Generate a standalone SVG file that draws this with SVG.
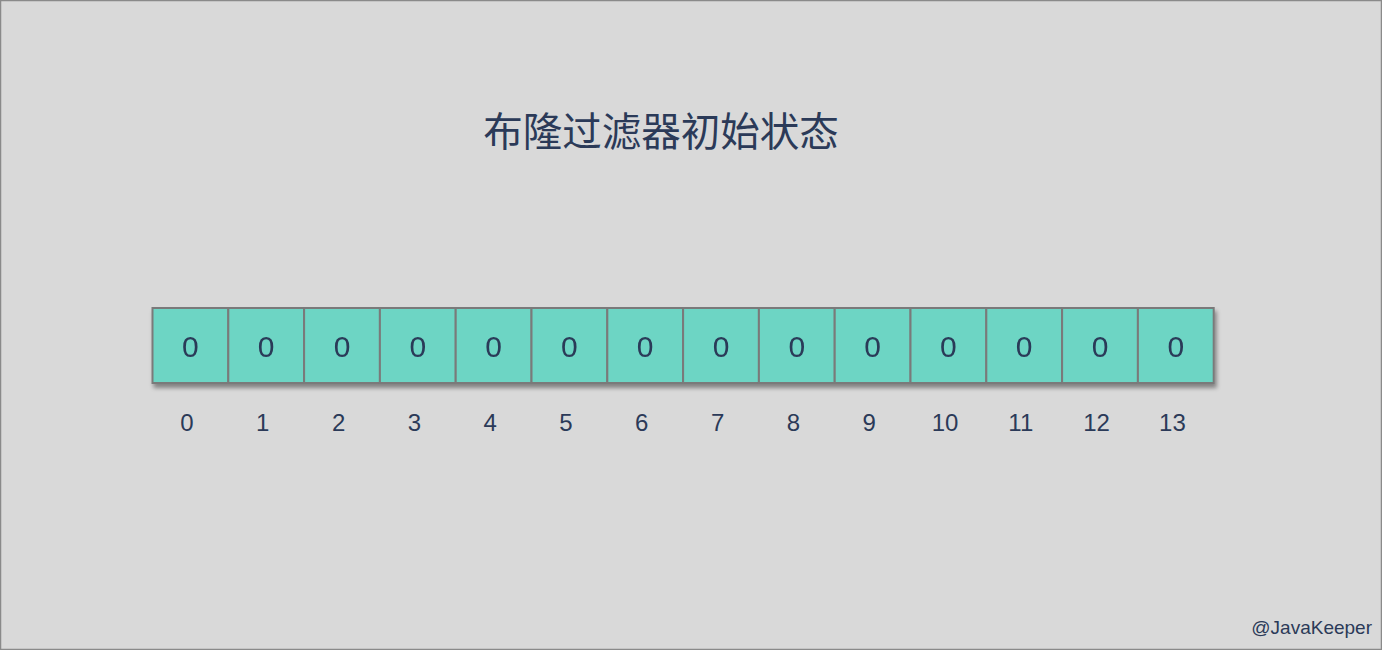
<svg xmlns="http://www.w3.org/2000/svg" width="1382" height="650" viewBox="0 0 1382 650">
<defs>
<style>
.cell{fill:#6dd5c4;stroke:#7a7a7a;stroke-width:2}
.val{font-family:"Liberation Sans",Arial,sans-serif;font-size:30px;fill:#2b3a58;text-anchor:middle}
.idx{font-family:"Liberation Sans",Arial,sans-serif;font-size:24px;fill:#2b3a58;text-anchor:middle}
</style>
<filter id="sh" x="-10%" y="-10%" width="130%" height="130%">
<feDropShadow dx="2" dy="4" stdDeviation="2" flood-color="#000" flood-opacity="0.4"/>
</filter>
</defs>
<rect x="0.5" y="0.5" width="1381" height="649" fill="#d9d9d9" stroke="#8a8a8a" stroke-width="1.5"/>
<text x="661" y="146" font-family="'Noto Sans CJK SC','Noto Sans',sans-serif" font-size="39.5" fill="#2b3a58" text-anchor="middle">布隆过滤器初始状态</text>
<g id="array" filter="url(#sh)">
<g id="cell0"><rect class="cell" x="152.5" y="308" width="75.8" height="75"/><text class="val" x="190.4" y="357">0</text></g>
<g id="cell1"><rect class="cell" x="228.3" y="308" width="75.8" height="75"/><text class="val" x="266.2" y="357">0</text></g>
<g id="cell2"><rect class="cell" x="304.1" y="308" width="75.8" height="75"/><text class="val" x="342" y="357">0</text></g>
<g id="cell3"><rect class="cell" x="379.9" y="308" width="75.8" height="75"/><text class="val" x="417.8" y="357">0</text></g>
<g id="cell4"><rect class="cell" x="455.7" y="308" width="75.8" height="75"/><text class="val" x="493.6" y="357">0</text></g>
<g id="cell5"><rect class="cell" x="531.5" y="308" width="75.8" height="75"/><text class="val" x="569.4" y="357">0</text></g>
<g id="cell6"><rect class="cell" x="607.3" y="308" width="75.8" height="75"/><text class="val" x="645.2" y="357">0</text></g>
<g id="cell7"><rect class="cell" x="683.1" y="308" width="75.8" height="75"/><text class="val" x="721" y="357">0</text></g>
<g id="cell8"><rect class="cell" x="758.9" y="308" width="75.8" height="75"/><text class="val" x="796.8" y="357">0</text></g>
<g id="cell9"><rect class="cell" x="834.7" y="308" width="75.8" height="75"/><text class="val" x="872.6" y="357">0</text></g>
<g id="cell10"><rect class="cell" x="910.5" y="308" width="75.8" height="75"/><text class="val" x="948.4" y="357">0</text></g>
<g id="cell11"><rect class="cell" x="986.3" y="308" width="75.8" height="75"/><text class="val" x="1024.2" y="357">0</text></g>
<g id="cell12"><rect class="cell" x="1062.1" y="308" width="75.8" height="75"/><text class="val" x="1100" y="357">0</text></g>
<g id="cell13"><rect class="cell" x="1137.9" y="308" width="75.8" height="75"/><text class="val" x="1175.8" y="357">0</text></g>
</g>
<g id="indices">
<text class="idx" x="187" y="431">0</text>
<text class="idx" x="262.8" y="431">1</text>
<text class="idx" x="338.6" y="431">2</text>
<text class="idx" x="414.4" y="431">3</text>
<text class="idx" x="490.2" y="431">4</text>
<text class="idx" x="566" y="431">5</text>
<text class="idx" x="641.8" y="431">6</text>
<text class="idx" x="717.6" y="431">7</text>
<text class="idx" x="793.4" y="431">8</text>
<text class="idx" x="869.2" y="431">9</text>
<text class="idx" x="945" y="431">10</text>
<text class="idx" x="1020.8" y="431">11</text>
<text class="idx" x="1096.6" y="431">12</text>
<text class="idx" x="1172.4" y="431">13</text>
</g>
<g id="connectors"/>
<text x="1372" y="634" font-family="'Liberation Sans',Arial,sans-serif" font-size="19" fill="#2b3a58" text-anchor="end">@JavaKeeper</text>
</svg>
